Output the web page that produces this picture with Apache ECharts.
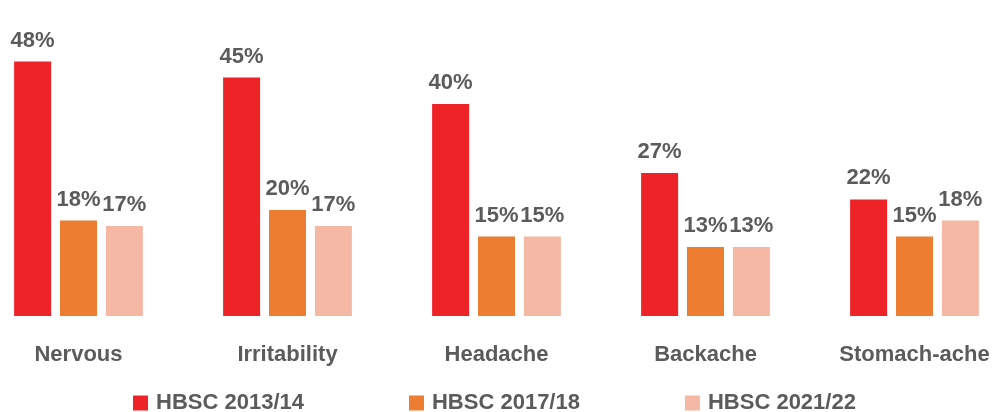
<!DOCTYPE html>
<html>
<head>
<meta charset="utf-8">
<style>
  html, body { margin: 0; padding: 0; background: #fff; overflow: hidden; }
  body { width: 999px; height: 412px; position: relative; }
  /* plot is a bit wider than the window: first category starts off-canvas */
  #main { position: absolute; left: -26px; top: 0; width: 1045px; height: 412px; }
</style>
<script src="https://cdn.jsdelivr.net/npm/echarts@6/dist/echarts.min.js"></script>
</head>
<body>
<div id="main"></div>
<script>
// symptom categories
var categories = ['Nervous', 'Irritability', 'Headache', 'Backache', 'Stomach-ache'];
// share of pupils per survey wave (%)
var wave2014 = [48, 45, 40, 27, 22];
var wave2018 = [18, 20, 15, 13, 15];
var wave2022 = [17, 17, 15, 13, 18];
var seriesNames = ['HBSC 2013/14', 'HBSC 2017/18', 'HBSC 2021/22'];

var textColor = '#5b5b5b';
var font = 'Liberation Sans';

function makeSeries(name, data, color) {
  return {
    name: name,
    type: 'bar',
    data: data,
    barWidth: 37,
    barGap: '24%',
    itemStyle: { color: color },
    label: {
      show: true,
      position: 'top',
      distance: 10,
      formatter: '{c}%',
      color: textColor,
      fontFamily: font,
      fontWeight: 'bold',
      fontSize: 22
    }
  };
}

var myChart = echarts.init(document.getElementById('main'));
myChart.setOption({
  animation: false,
  color: ['#ee2327', '#ec7d31', '#f4b8a5'],
  legend: {
    left: 154,
    top: 387,
    itemWidth: 15,
    itemHeight: 15,
    itemGap: 105,
    icon: 'rect',
    textStyle: {
      color: textColor,
      fontFamily: font,
      fontWeight: 'bold',
      fontSize: 22,
      padding: [0, 0, 0, 3]
    },
    data: seriesNames
  },
  grid: {
    left: 0,
    right: 0,
    top: 51,
    bottom: 96,
    containLabel: false
  },
  xAxis: {
    type: 'category',
    data: categories,
    axisLine: { show: false },
    axisTick: { show: false },
    axisLabel: {
      margin: 28,
      color: textColor,
      fontFamily: font,
      fontWeight: 'bold',
      fontSize: 22,
      interval: 0
    }
  },
  yAxis: {
    type: 'value',
    min: 0,
    max: 50,
    show: false,
    splitLine: { show: false }
  },
  series: [
    makeSeries(seriesNames[0], wave2014, '#ee2327'),
    makeSeries(seriesNames[1], wave2018, '#ec7d31'),
    makeSeries(seriesNames[2], wave2022, '#f4b8a5')
  ]
});
window.addEventListener('resize', function() {
  myChart.resize();
});
</script>
</body>
</html>
